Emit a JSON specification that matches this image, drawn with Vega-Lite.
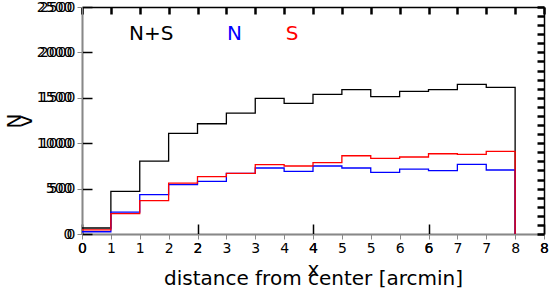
{
  "$schema": "https://vega.github.io/schema/vega-lite/v6.json",
  "width": 462,
  "height": 227,
  "autosize": {"type": "none"},
  "padding": {"left": 82, "top": 7, "right": 6, "bottom": 66},
  "config": {
    "font": "DejaVu Sans",
    "view": {"stroke": null},
    "axis": {"grid": false, "labelFontSize": 14, "titleFontSize": 20, "titleFontWeight": "normal", "labelFlush": false, "format": "d"}
  },
  "datasets": {
    "hist": [
      {"x": 0, "v": 66, "s": "N+S"}, {"x": 0.5, "v": 469, "s": "N+S"}, {"x": 1, "v": 803, "s": "N+S"}, {"x": 1.5, "v": 1108, "s": "N+S"}, {"x": 2, "v": 1214, "s": "N+S"}, {"x": 2.5, "v": 1332, "s": "N+S"}, {"x": 3, "v": 1493, "s": "N+S"}, {"x": 3.5, "v": 1438, "s": "N+S"}, {"x": 4, "v": 1537, "s": "N+S"}, {"x": 4.5, "v": 1589, "s": "N+S"}, {"x": 5, "v": 1512, "s": "N+S"}, {"x": 5.5, "v": 1570, "s": "N+S"}, {"x": 6, "v": 1589, "s": "N+S"}, {"x": 6.5, "v": 1647, "s": "N+S"}, {"x": 7, "v": 1614, "s": "N+S"}, {"x": 7.5, "v": 0, "s": "N+S"},
      {"x": 0, "v": 25, "s": "N"}, {"x": 0.5, "v": 242, "s": "N"}, {"x": 1, "v": 433, "s": "N"}, {"x": 1.5, "v": 543, "s": "N"}, {"x": 2, "v": 579, "s": "N"}, {"x": 2.5, "v": 667, "s": "N"}, {"x": 3, "v": 727, "s": "N"}, {"x": 3.5, "v": 690, "s": "N"}, {"x": 4, "v": 749, "s": "N"}, {"x": 4.5, "v": 727, "s": "N"}, {"x": 5, "v": 678, "s": "N"}, {"x": 5.5, "v": 715, "s": "N"}, {"x": 6, "v": 697, "s": "N"}, {"x": 6.5, "v": 766, "s": "N"}, {"x": 7, "v": 705, "s": "N"}, {"x": 7.5, "v": 0, "s": "N"},
      {"x": 0, "v": 45, "s": "S"}, {"x": 0.5, "v": 225, "s": "S"}, {"x": 1, "v": 367, "s": "S"}, {"x": 1.5, "v": 561, "s": "S"}, {"x": 2, "v": 631, "s": "S"}, {"x": 2.5, "v": 667, "s": "S"}, {"x": 3, "v": 763, "s": "S"}, {"x": 3.5, "v": 749, "s": "S"}, {"x": 4, "v": 785, "s": "S"}, {"x": 4.5, "v": 862, "s": "S"}, {"x": 5, "v": 832, "s": "S"}, {"x": 5.5, "v": 848, "s": "S"}, {"x": 6, "v": 884, "s": "S"}, {"x": 6.5, "v": 876, "s": "S"}, {"x": 7, "v": 909, "s": "S"}, {"x": 7.5, "v": 0, "s": "S"}
    ],
    "labels": [
      {"x": 1.2, "v": 2205, "s": "N+S"},
      {"x": 2.64, "v": 2205, "s": "N"},
      {"x": 3.64, "v": 2205, "s": "S"}
    ]
  },
  "resolve": {"axis": {"x": "independent", "y": "independent"}},
  "layer": [
    {
      "data": {"name": "hist"},
      "mark": {"type": "line", "interpolate": "step-after", "strokeWidth": 1.3, "clip": true},
      "encoding": {
        "x": {"field": "x", "type": "quantitative", "scale": {"domain": [0, 8], "nice": false, "zero": false},
              "axis": {"orient": "bottom", "values": [0, 2, 4, 6, 8], "tickSize": -10, "tickColor": "#000000", "tickWidth": 1.5, "domain": true, "domainColor": "black", "domainWidth": 1.5, "labelPadding": 17, "labelColor": "black", "titleColor": "black", "title": "distance from center [arcmin]", "titlePadding": 13}},
        "y": {"field": "v", "type": "quantitative", "scale": {"domain": [0, 2500], "nice": false},
              "axis": {"orient": "left", "values": [0, 500, 1000, 1500, 2000, 2500], "tickSize": -10, "tickColor": "#000000", "tickWidth": 1.5, "domain": true, "domainColor": "black", "domainWidth": 1.5, "labelPadding": 20, "labelColor": "black", "titleColor": "black", "title": "N", "titlePadding": 12}},
        "color": {"field": "s", "type": "nominal", "scale": {"domain": ["N+S", "N", "S"], "range": ["#000000", "#0000ff", "#ff0000"]}, "legend": null}
      }
    },
    {
      "data": {"name": "hist"},
      "mark": {"type": "line", "opacity": 0},
      "encoding": {
        "x": {"field": "x", "type": "quantitative",
              "axis": {"orient": "top", "values": [0, 0.5, 1, 1.5, 2, 2.5, 3, 3.5, 4, 4.5, 5, 5.5, 6, 6.5, 7, 7.5, 8], "tickSize": -7, "tickColor": "#000000", "tickWidth": 2.5, "domain": true, "domainColor": "black", "domainWidth": 1.5, "labels": false, "title": null}},
        "y": {"field": "v", "type": "quantitative",
              "axis": {"orient": "right", "values": [0, 100, 200, 300, 400, 500, 600, 700, 800, 900, 1000, 1100, 1200, 1300, 1400, 1500, 1600, 1700, 1800, 1900, 2000, 2100, 2200, 2300, 2400, 2500], "tickSize": -7, "tickColor": "#000000", "tickWidth": 2.5, "domain": true, "domainColor": "black", "domainWidth": 1.5, "labels": false, "title": null}}
      }
    },
    {
      "data": {"name": "labels"},
      "mark": {"type": "text", "fontSize": 20, "baseline": "middle", "align": "center", "font": "DejaVu Sans"},
      "encoding": {
        "x": {"field": "x", "type": "quantitative"},
        "y": {"field": "v", "type": "quantitative"},
        "text": {"field": "s"},
        "color": {"field": "s", "type": "nominal", "legend": null}
      }
    }
  ]
}
